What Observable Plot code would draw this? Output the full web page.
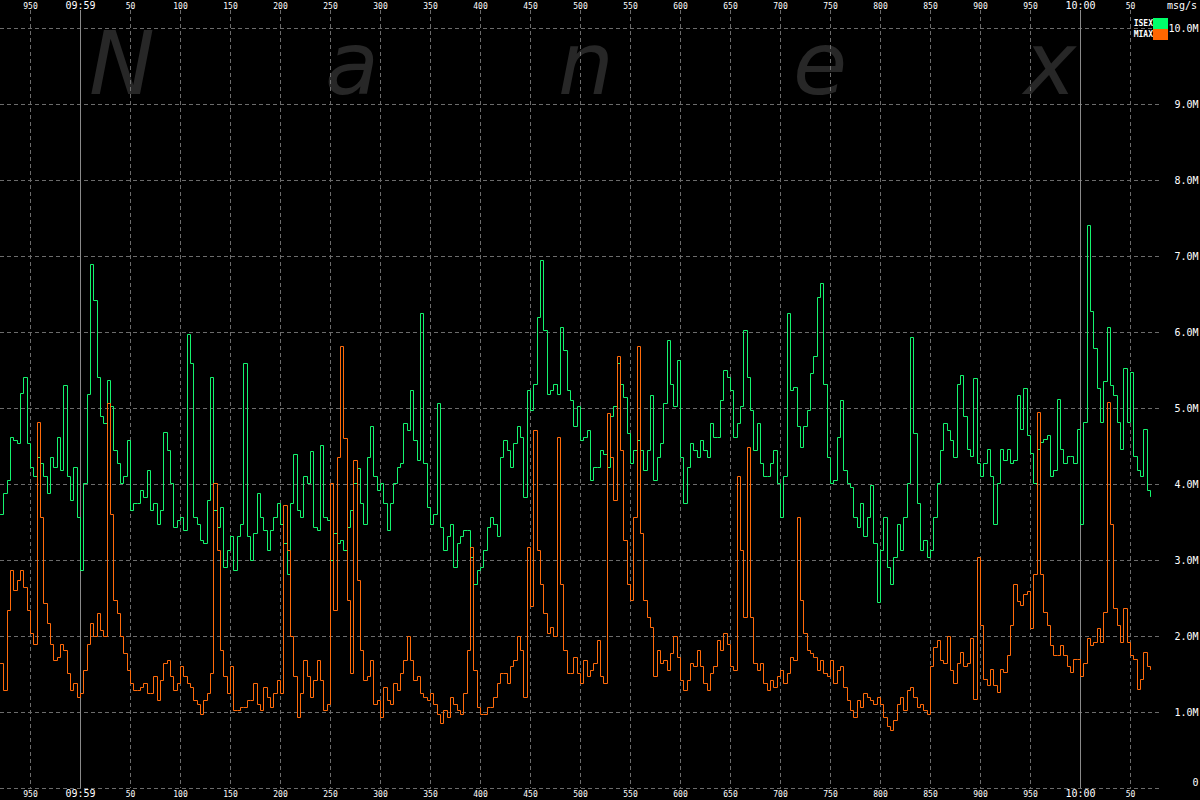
<!DOCTYPE html>
<html>
<head>
<meta charset="utf-8">
<script src="https://cdn.jsdelivr.net/npm/d3@7"></script>
<script src="https://cdn.jsdelivr.net/npm/@observablehq/plot@0.6"></script>
<style>
  html, body { margin: 0; padding: 0; background: #000; }
  #wrap { position: relative; width: 1200px; height: 800px; overflow: hidden; background: #000; }
  #wm, #chart, #overlay { position: absolute; left: 0; top: 0; }
  .unit { position: absolute; right: 2px; top: 0px; font: 10px "DejaVu Sans Mono", monospace; color: #fff; }
  .legrow { position: absolute; left: 1120px; width: 48px; height: 11px; }
  .legrow .lab { position: absolute; right: 15px; top: 0; font: bold 8px "DejaVu Sans Mono", monospace; color: #fff; line-height: 11px; }
  .legrow .sw { position: absolute; right: 0; top: 0; width: 15px; height: 11px; }
</style>
</head>
<body>
<div id="wrap">
  <svg id="wm" width="1200" height="800"></svg>
  <div id="chart"></div>
  <div id="overlay"></div>
</div>
<script>
// ---- data (msg/s, millions), sampled every STEP ms starting at T0 ms relative to 09:59:00.000 ----
const T0 = -80;
const STEP = 10 / 3;

const isex = [
  3.61,3.88,4.05,4.62,4.58,4.54,5.20,5.41,4.54,4.23,
  4.10,4.36,4.27,4.10,3.88,4.36,4.23,4.62,4.19,5.30,
  4.10,3.79,4.23,3.57,2.87,4.01,5.19,6.90,6.42,5.41,
  4.89,4.80,5.37,5.02,4.45,4.27,4.01,4.10,4.58,3.66,
  3.75,3.75,3.92,3.83,4.19,3.66,3.75,3.48,3.66,4.69,
  4.45,4.01,3.44,3.53,3.57,3.39,5.98,5.59,3.57,3.48,
  3.26,3.22,3.79,5.41,3.66,3.44,3.70,2.91,3.13,3.31,
  2.87,3.31,
  3.48,5.59,3.31,3.00,3.35,3.88,3.57,3.39,3.13,3.39,
  3.57,3.75,3.48,3.22,2.82,3.75,4.40,3.66,3.57,4.10,
  4.01,4.43,3.44,3.39,4.51,3.57,3.53,3.00,3.35,3.22,
  3.26,3.13,3.44,3.66,4.01,4.21,3.75,3.48,4.36,4.76,
  4.10,3.92,4.01,3.75,3.39,3.75,4.01,4.23,4.27,4.80,
  4.71,5.24,4.58,4.32,6.25,4.27,3.70,3.48,3.61,5.06,
  3.44,3.13,3.31,3.48,2.91,3.22,3.31,3.39,3.39,3.04,
  2.69,2.87,
  2.91,3.13,3.44,3.57,3.48,3.31,4.36,4.58,4.45,4.23,
  4.54,4.76,4.62,3.83,5.24,4.98,5.32,6.20,6.95,6.03,
  5.19,5.24,5.32,5.19,6.07,5.76,5.24,5.11,4.76,5.02,
  4.58,4.62,4.71,4.05,4.23,4.23,4.45,4.40,4.23,4.89,
  5.02,5.59,5.32,5.15,4.67,4.27,4.45,4.58,4.45,4.19,
  4.45,5.17,4.05,4.36,4.54,5.06,5.89,5.32,5.02,5.63,
  4.36,3.75,4.23,4.54,4.45,4.36,4.58,4.45,4.36,4.80,
  4.62,4.62,
  5.11,5.50,5.41,5.24,4.62,4.80,5.02,6.03,5.41,4.98,
  4.45,4.80,4.27,4.10,4.10,4.27,4.45,4.01,3.57,4.10,
  6.25,5.24,5.28,4.76,4.49,4.76,4.98,5.46,5.68,6.46,
  6.64,5.32,4.36,4.01,4.05,4.62,5.11,4.19,4.01,3.96,
  3.57,3.44,3.75,3.31,3.57,3.99,3.22,2.45,3.13,3.57,
  2.91,2.69,3.04,3.48,3.13,3.57,4.01,5.94,4.67,3.75,
  3.13,3.26,3.04,3.13,3.57,4.01,4.45,4.80,4.71,4.58,
  4.36,5.32,
  5.44,4.90,4.46,4.37,5.39,4.28,4.10,4.28,4.46,4.10,
  3.48,4.01,4.46,4.32,4.46,4.28,4.32,5.17,4.72,5.26,
  4.64,4.41,4.01,4.46,4.55,4.59,4.64,4.10,4.19,5.12,
  4.46,4.28,4.37,4.37,4.28,4.72,3.48,4.81,7.41,6.28,
  5.79,5.26,4.81,5.35,6.06,5.30,5.17,4.81,4.46,5.52,
  4.81,5.48,4.37,4.19,4.10,4.72,3.92,3.84
];

const miax = [
  1.64,1.29,2.34,2.87,2.61,2.74,2.87,2.65,2.34,2.04,
  1.90,4.82,3.57,2.43,2.17,1.90,1.68,1.72,1.90,1.82,
  1.51,1.29,1.38,1.20,1.25,1.55,1.90,2.17,2.00,2.30,
  2.08,2.00,5.06,3.60,2.47,2.30,2.00,1.77,1.55,1.38,
  1.29,1.29,1.33,1.38,1.25,1.25,1.47,1.16,1.42,1.64,
  1.68,1.47,1.29,1.38,1.60,1.47,1.38,1.33,1.16,1.11,
  0.98,1.16,1.25,1.51,4.01,3.13,1.82,1.47,1.25,1.60,
  1.03,1.03,
  1.07,1.07,1.16,1.16,1.38,1.11,1.03,1.33,1.20,1.07,
  1.25,1.42,1.25,3.72,3.13,2.00,1.47,0.94,1.25,1.68,
  1.47,1.20,1.42,1.68,1.42,1.03,1.11,4.01,2.34,4.36,
  5.81,4.60,2.47,1.51,4.32,2.74,1.82,1.42,1.47,1.68,
  1.11,1.16,0.94,1.33,1.16,1.11,1.38,1.29,1.51,1.68,
  2.00,1.68,1.42,1.47,1.25,1.20,1.16,1.25,1.11,0.98,
  0.85,1.03,0.94,1.20,1.11,1.03,0.98,1.25,1.82,3.17,
  1.55,1.07,
  0.98,0.98,1.07,1.07,1.20,1.38,1.51,1.51,1.38,1.60,
  1.68,2.00,1.82,1.20,3.17,2.39,4.71,3.13,2.69,2.30,
  2.04,2.12,2.00,4.62,2.69,1.82,1.51,1.51,1.73,1.51,
  1.38,1.68,1.47,1.55,1.64,1.95,1.47,1.38,4.93,4.36,
  3.79,5.68,4.45,3.26,2.69,2.47,3.57,5.81,3.35,2.47,
  2.25,2.12,1.47,1.82,1.64,1.68,1.55,1.77,2.00,1.73,
  1.42,1.29,1.42,1.64,1.60,1.82,1.60,1.38,1.29,1.51,
  1.60,1.95,
  1.82,2.04,1.90,1.60,1.55,4.10,3.13,2.25,4.49,2.25,
  1.64,1.55,1.64,1.38,1.29,1.42,1.33,1.47,1.55,1.38,
  1.51,1.73,1.68,3.57,2.47,2.04,1.82,1.77,1.73,1.55,
  1.68,1.51,1.47,1.68,1.38,1.55,1.60,1.33,1.16,1.03,
  0.94,1.16,1.07,1.25,1.20,1.16,1.11,1.20,1.11,0.94,
  0.81,0.76,0.90,1.11,1.20,1.03,1.29,1.33,1.20,1.07,
  1.11,1.03,0.98,1.60,1.86,1.95,1.68,1.64,2.00,1.55,
  1.38,1.64,
  1.79,1.61,1.65,1.97,1.17,3.04,2.15,1.44,1.36,1.57,
  1.36,1.26,1.57,1.52,1.75,2.15,2.68,2.46,2.41,2.55,
  2.59,2.10,2.81,4.95,2.81,2.32,2.15,1.88,1.75,1.75,
  1.88,1.75,1.61,1.52,1.70,1.70,1.48,1.65,1.97,1.88,
  1.92,2.10,1.92,2.32,5.08,3.48,2.37,2.15,1.92,2.37,
  1.92,1.75,1.70,1.30,1.44,1.79,1.61,1.57
];

const seriesNames = ["ISEX", "MIAX"];
const seriesColors = ["#14f46e", "#ff6a0a"];
const legendColors = ["#00ff6a", "#ff6600"];

const xTicks = [-50,0,50,100,150,200,250,300,350,400,450,500,550,600,650,700,750,800,850,900,950,1000,1050];
const xTickLabels = ["950","09:59","50","100","150","200","250","300","350","400","450","500","550","600","650","700","750","800","850","900","950","10:00","50"];
const yTicks = [0,1,2,3,4,5,6,7,8,9,10];
const yTickLabels = ["0","1.0M","2.0M","3.0M","4.0M","5.0M","6.0M","7.0M","8.0M","9.0M","10.0M"];
const unitLabel = "msg/s";
const watermark = ["N","a","n","e","x"];

// ---- build tables ----
const toRows = (vals, name) => vals.map((v, i) => ({t: T0 + i * STEP, v, name}));
const isexRows = toRows(isex, seriesNames[0]);
const miaxRows = toRows(miax, seriesNames[1]);
const isMajor = (i) => xTickLabels[i].includes(":");

// ---- watermark (decorative, behind chart) ----
const wm = d3.select("#wm");
const wmX = [122, 352, 586, 820, 1050];
watermark.forEach((ch, i) => {
  wm.append("text")
    .attr("x", wmX[i]).attr("y", 94)
    .attr("text-anchor", "middle")
    .attr("font-family", "'DejaVu Sans', sans-serif")
    .attr("font-style", "italic")
    .attr("font-size", 88)
    .attr("fill", "#272727")
    .text(ch);
});

// ---- chart ----
const grid = "#6c6c6c";
const chart = Plot.plot({
  width: 1200,
  height: 800,
  marginLeft: 0,
  marginRight: 40,
  marginTop: 10,
  marginBottom: 12,
  x: {domain: [-80, 1080], axis: null, round: true},
  y: {domain: [0, 10.237], axis: null, round: true},
  style: {background: "transparent", color: "#fff", fontFamily: "'DejaVu Sans Mono', monospace"},
  marks: [
    Plot.ruleY(yTicks, {stroke: grid, strokeDasharray: "4,3", strokeWidth: 1}),
    Plot.ruleX(xTicks.filter((t) => t % 1000 !== 0), {stroke: grid, strokeDasharray: "4,3", strokeWidth: 1}),
    Plot.ruleX(xTicks.filter((t) => t % 1000 === 0), {stroke: "#8a8a8a", strokeWidth: 1}),
    Plot.line(isexRows, {x: "t", y: "v", curve: "step-after", stroke: seriesColors[0], strokeWidth: 1}),
    Plot.line(miaxRows, {x: "t", y: "v", curve: "step-after", stroke: seriesColors[1], strokeWidth: 1}),
    Plot.text(xTicks, {x: (d) => d, text: (d, i) => xTickLabels[i], frameAnchor: "top", dy: -4.5,
      fontSize: (d, i) => isMajor(i) ? 10 : 8, fill: "#fff", textAnchor: "middle", lineAnchor: "middle"}),
    Plot.text(xTicks, {x: (d) => d, text: (d, i) => xTickLabels[i], frameAnchor: "bottom", dy: 5.5,
      fontSize: (d, i) => isMajor(i) ? 10 : 8, fill: "#fff", textAnchor: "middle", lineAnchor: "middle"}),
    Plot.text(yTicks.filter((d) => d > 0), {y: (d) => d, text: (d) => yTickLabels[yTicks.indexOf(d)],
      frameAnchor: "right", dx: 38, textAnchor: "end", lineAnchor: "middle", fontSize: 10, fill: "#fff"}),
    Plot.text(yTicks.filter((d) => d === 0), {y: (d) => d, text: (d) => yTickLabels[yTicks.indexOf(d)],
      frameAnchor: "right", dx: 38, dy: -6, textAnchor: "end", lineAnchor: "middle", fontSize: 10, fill: "#fff"})
  ]
});
document.getElementById("chart").appendChild(chart);

// ---- unit label & legend ----
const overlay = d3.select("#overlay").style("width", "1200px").style("height", "800px");
overlay.append("div").attr("class", "unit").style("left", "1167px").text(unitLabel);
seriesNames.forEach((name, i) => {
  const row = overlay.append("div").attr("class", "legrow").style("top", (18 + i * 11) + "px");
  row.append("span").attr("class", "lab").text(name);
  row.append("span").attr("class", "sw").style("background", legendColors[i]);
});
</script>
</body>
</html>
